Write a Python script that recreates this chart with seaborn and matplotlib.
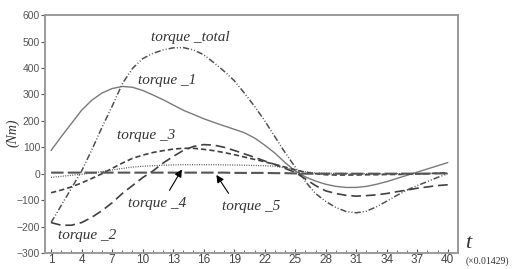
import numpy as np
import pandas as pd
import matplotlib
matplotlib.use("Agg")
import matplotlib.pyplot as plt
import seaborn as sns

# ── Data ──────────────────────────────────────────────────────
t = list(range(1, 41))

torque_total = [-185, -120, -55, 10, 90, 175, 255, 340, 398, 435,
                455, 468, 476, 477, 468, 450, 420, 388, 352, 305,
                255, 200, 140, 80, 25, -30, -75, -105, -128, -143,
                -148, -142, -125, -104, -82, -62, -45, -30, -14, 0]
torque_1 = [88, 140, 190, 240, 278, 305, 322, 330, 327, 315,
            298, 280, 260, 240, 224, 208, 194, 181, 168, 155,
            135, 108, 78, 42, 10, -12, -28, -40, -48, -52,
            -52, -48, -40, -30, -18, -6, 6, 18, 30, 42]
torque_2 = [-185, -195, -195, -185, -165, -140, -110, -75, -45, -15,
            10, 40, 65, 88, 103, 110, 108, 100, 88, 75,
            62, 48, 35, 20, 5, -20, -45, -65, -75, -82,
            -85, -83, -80, -75, -68, -62, -55, -50, -45, -42]
torque_3 = [-72, -62, -50, -35, -18, 0, 20, 40, 58, 70,
            80, 87, 93, 96, 96, 92, 87, 80, 72, 63,
            54, 45, 35, 25, 15, 5, 0, -4, -5, -5,
            -5, -4, -4, -3, -3, -2, -1, 0, 2, 3]
torque_4 = [-14, -10, -6, -2, 2, 8, 14, 20, 25, 28,
            30, 32, 33, 34, 34, 34, 34, 33, 33, 32,
            31, 30, 28, 22, 14, 7, 3, 2, 1, 1,
            0, 0, 0, 0, 0, 1, 1, 1, 2, 2]
torque_5 = [4, 4, 4, 4, 4, 4, 4, 4, 4, 4,
            4, 4, 4, 4, 4, 4, 4, 4, 3, 3,
            3, 3, 2, 2, 1, 0, 0, 0, 0, 0,
            0, 0, 0, 0, 0, 0, 0, 0, 1, 1]

x_ticks = list(range(1, 41, 3))
y_ticks = list(range(-300, 601, 100))

# ── Style ─────────────────────────────────────────────────────
sns.set_style("white")
plt.rcParams["lines.scale_dashes"] = False
serif = ["Liberation Serif", "DejaVu Serif"]
sans = ["Liberation Sans", "DejaVu Sans"]

fig = plt.figure(figsize=(5.13, 2.69), dpi=100)
ax = fig.add_axes([0.0877, 0.0595, 0.805, 0.8845])

series = [
    (torque_1,     "#7a7a7a", 1.0, "-"),
    (torque_total, "#505050", 1.1, (0, (4.5, 1.5, 0.7, 1.5, 0.7, 1.5))),
    (torque_2,     "#404040", 1.2, (0, (7, 3.5))),
    (torque_3,     "#404040", 1.2, (0, (3.8, 2.2))),
    (torque_4,     "#505050", 0.9, (0, (0.7, 1.0))),
    (torque_5,     "#555555", 1.5, (0, (9, 3))),
]
for vals, col, lw, ls in series:
    sns.lineplot(x=t, y=vals, ax=ax, color=col, lw=lw, linestyle=ls)

ax.set_xlim(0.4, 41)
ax.set_ylim(-300, 600)
ax.set_xticks(x_ticks)
ax.set_xticks(t, minor=True)
ax.set_yticks(y_ticks)
ax.tick_params(axis="x", which="both", direction="in", length=3,
               color="#555555", labelsize=8.5, labelcolor="#444444", pad=1)
ax.tick_params(axis="y", direction="out", length=3, color="#555555",
               labelsize=7.5, labelcolor="#555555", pad=0.5, left=True)
ax.tick_params(axis="x", which="minor", length=2)
ax.tick_params(axis="x", bottom=True, which="both")
for lab in ax.get_xticklabels() + ax.get_yticklabels():
    lab.set_family(sans)
for s in ax.spines.values():
    s.set_color("#9a9a9a")
    s.set_linewidth(1.4)
ax.set_xlabel("")
ax.set_ylabel("")

# ── Labels ────────────────────────────────────────────────────
lab_kw = dict(fontsize=11, style="italic", family=serif, color="#333333",
              ha="center", va="center")
ax.text(14.7, 515, "torque _total", **lab_kw)
ax.text(12.4, 352, "torque _1", **lab_kw)
ax.text(10.3, 144, "torque _3", **lab_kw)
ax.text(11.4, -114, "torque _4", **lab_kw)
ax.text(20.7, -125, "torque _5", **lab_kw)
ax.text(4.5, -235, "torque _2", **lab_kw)

arr = dict(arrowstyle="-|>", color="black", lw=0.8, mutation_scale=11)
ax.annotate("", xy=(14.0, 25), xytext=(12.5, -72), arrowprops=arr)
ax.annotate("", xy=(17.1, 4), xytext=(18.6, -83), arrowprops=arr)

fig.text(0.025, 0.505, "(Nm)", rotation=90, fontsize=10, style="italic",
         family=serif, color="#333333", ha="center", va="center")
fig.text(0.912, 0.095, "t", fontsize=16, style="italic", family=serif,
         color="#333333", ha="center", va="center")
fig.text(0.951, 0.028, "(×0.01429)", fontsize=7, family=serif,
         color="#333333", ha="center", va="center")

fig.savefig("out.png", dpi=100)
